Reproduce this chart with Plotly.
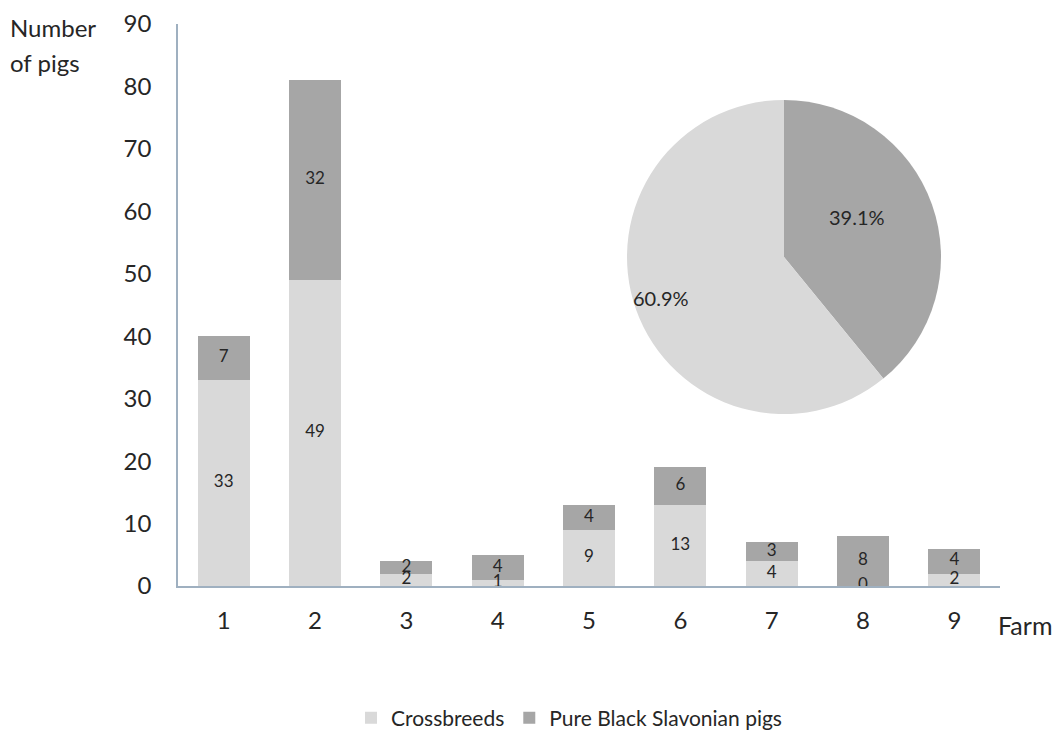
import plotly.graph_objects as go

farms = [1, 2, 3, 4, 5, 6, 7, 8, 9]
crossbreeds = [33, 49, 2, 1, 9, 13, 4, 0, 2]
pure_black = [7, 32, 2, 4, 4, 6, 3, 8, 4]
series_names = ["Crossbreeds", "Pure Black Slavonian pigs"]
pie_labels = ["Pure Black Slavonian pigs", "Crossbreeds"]
pie_values = [39.1, 60.9]
y_ticks = [0, 10, 20, 30, 40, 50, 60, 70, 80, 90]

LIGHT = "#d9d9d9"
DARK = "#a6a6a6"
TXT = "#262626"
FONT = "Lato"

L, R, T, B = 178, 57, 24, 146
W, H = 1057, 732
PW, PH = W - L - R, H - T - B


def px(x):
    return (x - L) / PW


def py(y):
    return (H - B - y) / PH


fig = go.Figure()
fig.add_trace(go.Bar(x=farms, y=crossbreeds, name=series_names[0],
                     marker=dict(color=LIGHT, line=dict(width=0)), hoverinfo="skip"))
fig.add_trace(go.Bar(x=farms, y=pure_black, name=series_names[1],
                     marker=dict(color=DARK, line=dict(width=0)), hoverinfo="skip"))

# data labels at segment midpoints
fig.add_trace(go.Scatter(x=farms, y=[c / 2 for c in crossbreeds], mode="text",
                         text=[str(c) for c in crossbreeds], showlegend=False,
                         textfont=dict(family=FONT, size=17, color=TXT), hoverinfo="skip"))
fig.add_trace(go.Scatter(x=farms, y=[c + p / 2 for c, p in zip(crossbreeds, pure_black)],
                         mode="text", text=[str(p) for p in pure_black], showlegend=False,
                         textfont=dict(family=FONT, size=17, color=TXT), hoverinfo="skip"))

fig.add_trace(go.Pie(labels=pie_labels, values=pie_values, sort=False,
                     direction="clockwise", rotation=0,
                     marker=dict(colors=[DARK, LIGHT], line=dict(width=0)),
                     textinfo="none", showlegend=False, hoverinfo="skip",
                     domain=dict(x=[px(627), px(941)], y=[py(414), py(100)])))

fig.add_annotation(x=px(887), y=py(217), xref="paper", yref="paper",
                   text=f"{pie_values[0]}%", showarrow=False,
                   font=dict(family=FONT, size=20, color=TXT))
fig.add_annotation(x=px(661), y=py(298), xref="paper", yref="paper",
                   text=f"{pie_values[1]}%", showarrow=False,
                   font=dict(family=FONT, size=20, color=TXT))

fig.add_annotation(x=px(8), y=py(28), xref="paper", yref="paper",
                   xanchor="left", yanchor="middle", text="Number", showarrow=False,
                   font=dict(family=FONT, size=24, color=TXT))
fig.add_annotation(x=px(8), y=py(62), xref="paper", yref="paper",
                   xanchor="left", yanchor="middle", text="of pigs", showarrow=False,
                   font=dict(family=FONT, size=24, color=TXT))
fig.add_annotation(x=px(996), y=py(625), xref="paper", yref="paper",
                   xanchor="left", yanchor="middle", text="Farm", showarrow=False,
                   font=dict(family=FONT, size=25, color=TXT))

fig.update_layout(
    width=W, height=H,
    margin=dict(l=L, r=R, t=T, b=B, autoexpand=False),
    barmode="stack", bargap=0.43,
    plot_bgcolor="white", paper_bgcolor="white",
    font=dict(family=FONT, color=TXT),
    xaxis=dict(range=[0.5, 9.5], tickmode="array", tickvals=farms,
               ticktext=[str(f) for f in farms], showgrid=False, zeroline=False,
               showline=True, linecolor="#9fb0c0", linewidth=1.5, ticks="",
               tickfont=dict(family=FONT, size=24, color=TXT), ticklabelstandoff=12),
    yaxis=dict(range=[0, 90], tickmode="array", tickvals=y_ticks, showgrid=False,
               zeroline=False, showline=True, linecolor="#9fb0c0", linewidth=1.5, ticks="",
               tickfont=dict(family=FONT, size=24, color=TXT), ticklabelstandoff=20),
    legend=dict(orientation="h", x=px(569), y=py(718),
                xanchor="center", yanchor="middle",
                font=dict(family=FONT, size=21, color=TXT), itemwidth=30,
                traceorder="normal"),
    showlegend=True,
)

fig.write_html("out.html")
